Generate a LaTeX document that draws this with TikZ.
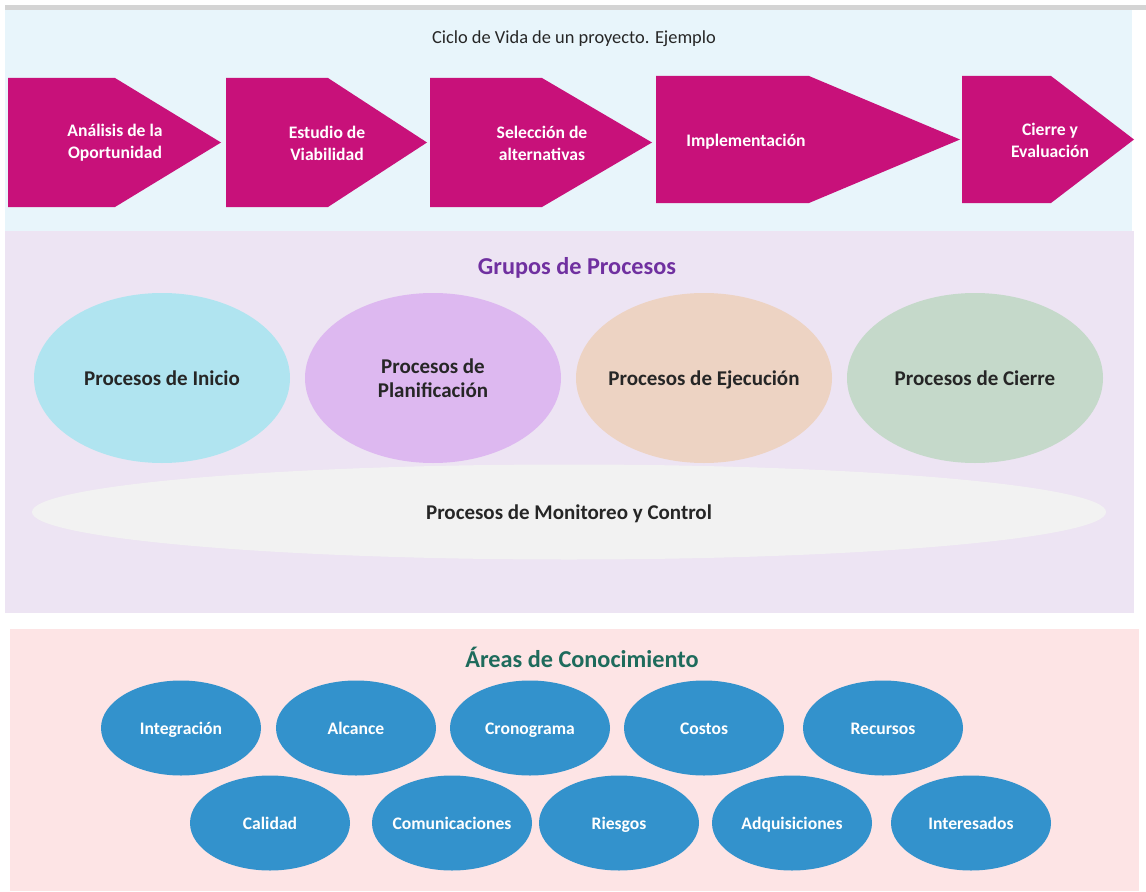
\documentclass[tikz,border=0pt]{standalone}
\usepackage{fontspec}
\setmainfont{Carlito}
\usetikzlibrary{shapes.geometric}

\definecolor{cicloBg}{HTML}{E8F5FB}
\definecolor{gruposBg}{HTML}{EDE4F3}
\definecolor{areasBg}{HTML}{FDE4E5}
\definecolor{faseC}{HTML}{C8117A}
\definecolor{inicioC}{HTML}{B0E4F0}
\definecolor{planifC}{HTML}{DDB8F0}
\definecolor{ejecC}{HTML}{EDD3C3}
\definecolor{cierreC}{HTML}{C5D9CA}
\definecolor{monitC}{HTML}{F2F2F2}
\definecolor{areaC}{HTML}{3392CC}
\definecolor{textoC}{HTML}{262626}
\definecolor{gruposT}{HTML}{7030A0}
\definecolor{areasT}{HTML}{1E6B5C}

\begin{document}
\begin{tikzpicture}[
    % GLOBAL CFG (1 unit = 1 px of the sheet)
    x=0.75pt, y=-0.75pt,
    % Styles
    panel/.style={
        draw=none,
    },
    phase/.style={
        fill=faseC,
    },
    phasetext/.style={
        text=white,
        align=center,
        font=\fontsize{13.2}{16.5}\selectfont\bfseries,
    },
    grupo/.style={
        ellipse,
        minimum width=192pt,
        minimum height=127.5pt,
        inner sep=-8pt,
        align=center,
        text=textoC,
        font=\fontsize{15.75}{18}\selectfont\bfseries,
    },
    grupoline/.style={
        text height=12.4pt,
        text depth=0.6pt,
    },
    area/.style={
        ellipse,
        fill=areaC,
        minimum width=120pt,
        minimum height=71.25pt,
        inner sep=-4pt,
        text height=10.8pt,
        text depth=0.4pt,
        text=white,
        font=\fontsize{13.2}{16}\selectfont\bfseries,
    },
    heading/.style={
        text height=13.6pt,
        text depth=0.4pt,
        font=\fontsize{18.2}{22}\selectfont\bfseries,
    },
]

\useasboundingbox (0,0) rectangle (1146,892);

% Draw the three panels
    \fill[black!17] (5,5) rectangle (1146,10);
    \fill[panel, cicloBg] (5,10) rectangle (1132,231);
    \fill[panel, gruposBg] (5,231) rectangle (1134,613);
    \fill[panel, areasBg] (10,629) rectangle (1139,891);

% Ciclo de vida
    \node[text height=10pt, text depth=0.8pt, text=textoC, font=\fontsize{13.8}{16}\selectfont] (ciclo) at (574,37) {Ciclo de Vida de un proyecto. Ejemplo};

    \fill[phase] (8,78) -- (115,78) -- (221,142.5) -- (115,207) -- (8,207) -- cycle;
    \fill[phase] (226,78) -- (328,78) -- (427,142.5) -- (328,207) -- (226,207) -- cycle;
    \fill[phase] (430,78) -- (542,78) -- (652,142.5) -- (542,207) -- (430,207) -- cycle;
    \fill[phase] (656,76) -- (809,76) -- (960,139.5) -- (809,203) -- (656,203) -- cycle;
    \fill[phase] (962,76) -- (1051,76) -- (1134,139.5) -- (1051,203) -- (962,203) -- cycle;

    \node[phasetext] (analisis) at (115,143) {Análisis de la\\Oportunidad};
    \node[phasetext] (estudio) at (327,143) {Estudio de\\Viabilidad};
    \node[phasetext] (seleccion) at (542,143) {Selección de\\alternativas};
    \node[phasetext, text height=10pt, text depth=0.8pt] (implem) at (746,140) {Implementación};
    \node[phasetext] (cierreEv) at (1050,140) {Cierre y\\Evaluación};

% Grupos de procesos
    \node[heading, text=gruposT] (grupos) at (577,266) {Grupos de Procesos};

    \node[grupo, grupoline, fill=inicioC] (inicio) at (162,378) {Procesos de Inicio};
    \node[grupo, fill=planifC] (planif) at (433,378) {Procesos de\\Planificación};
    \node[grupo, grupoline, fill=ejecC] (ejec) at (704,378) {Procesos de Ejecución};
    \node[grupo, grupoline, fill=cierreC] (cierre) at (975,378) {Procesos de Cierre};
    \node[grupo, grupoline, fill=monitC, minimum width=805.5pt, minimum height=71.25pt] (monit) at (569,512) {Procesos de Monitoreo y Control};

% Areas de conocimiento
    \node[heading, text=areasT] (areas) at (582,659) {Áreas de Conocimiento};

    \node[area] (integracion) at (181,728) {Integración};
    \node[area] (alcance) at (356,728) {Alcance};
    \node[area] (cronograma) at (530,728) {Cronograma};
    \node[area] (costos) at (704,728) {Costos};
    \node[area] (recursos) at (883,728) {Recursos};

    \node[area] (calidad) at (270,823) {Calidad};
    \node[area] (comunic) at (452,823) {Comunicaciones};
    \node[area] (riesgos) at (619,823) {Riesgos};
    \node[area] (adquis) at (792,823) {Adquisiciones};
    \node[area] (interes) at (971,823) {Interesados};

\end{tikzpicture}
\end{document}
